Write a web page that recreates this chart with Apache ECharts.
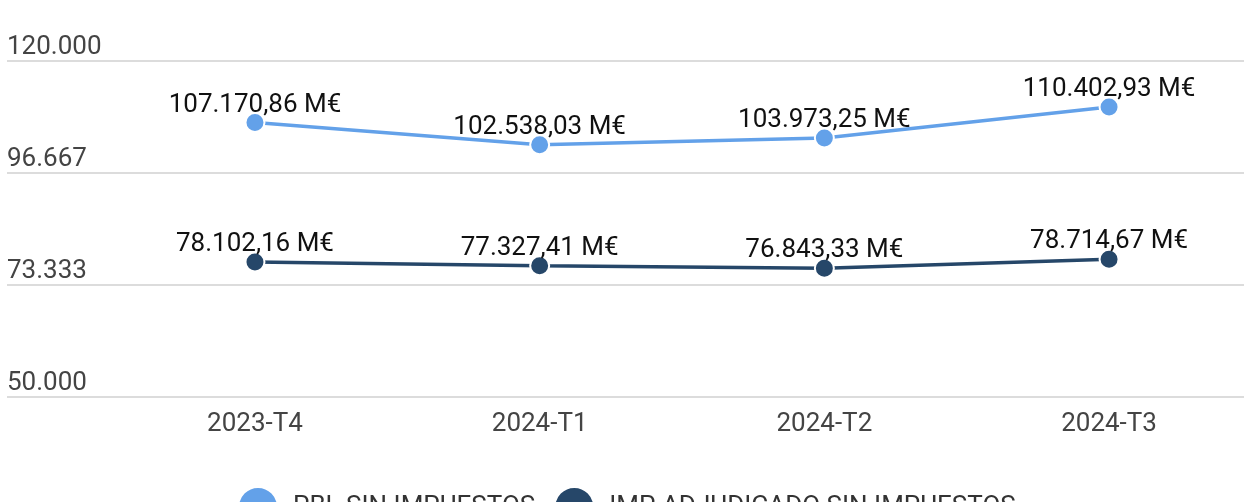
<!DOCTYPE html>
<html>
<head>
<meta charset="utf-8">
<script src="https://cdn.jsdelivr.net/npm/echarts@6/dist/echarts.min.js"></script>
<style>
  html, body { margin: 0; padding: 0; background: #fff; }
  #chartdiv { width: 1244px; height: 502px; }
</style>
</head>
<body>
<div id="chartdiv"></div>
<script>
var categories = ['2023-T4', '2024-T1', '2024-T2', '2024-T3'];
var seriesNames = ['PBL SIN IMPUESTOS', 'IMP ADJUDICADO SIN IMPUESTOS'];
var pblValues = [107170.86, 102538.03, 103973.25, 110402.93];
var impValues = [78102.16, 77327.41, 76843.33, 78714.67];
var yTicks = [50000, 73333.33, 96666.67, 120000];

var chart = echarts.init(document.getElementById('chartdiv'));

// puntos [indice, valor] para el eje x numerico
function toPoints(values) {
    return values.map(function (v, i) { return [i, v]; });
}

function fmtNum(v, dec) {
    var parts = v.toFixed(dec).split('.');
    var ent = parts[0].replace(/\B(?=(\d{3})+(?!\d))/g, '.');
    return dec > 0 ? ent + ',' + parts[1] : ent;
}

function lineSerie(name, values, color) {
    return {
        name: name,
        type: 'line',
        data: toPoints(values),
        symbol: 'circle',
        symbolSize: 19,
        lineStyle: { color: color, width: 3.5 },
        itemStyle: { color: color, borderColor: '#fff', borderWidth: 2 },
        label: {
            show: true,
            position: 'top',
            distance: -6,
            color: '#111',
            fontFamily: 'Roboto',
            fontSize: 26,
            formatter: function (p) { return fmtNum(p.value[1], 2) + ' M€'; }
        },
        emphasis: { disabled: true },
        z: 3
    };
}

var option = {
    animation: false,
    color: ['#63a1e9', '#264769'],
    grid: { left: 7, right: 0, top: 61, bottom: 105 },
    legend: {
        top: 481,
        left: 232,
        icon: 'circle',
        itemWidth: 40,
        itemHeight: 40,
        itemGap: 18,
        data: seriesNames,
        textStyle: { fontFamily: 'Roboto', fontSize: 26, color: '#333', padding: [0, 0, 0, 10] }
    },
    xAxis: {
        type: 'value',
        min: -0.871,
        max: 3.474,
        axisLine: { show: false },
        axisTick: { show: false },
        splitLine: { show: false },
        axisLabel: {
            customValues: [0, 1, 2, 3],
            margin: 14,
            color: '#444',
            fontFamily: 'Roboto',
            fontSize: 26,
            formatter: function (v) { return categories[Math.round(v)]; }
        }
    },
    yAxis: {
        type: 'value',
        min: yTicks[0],
        max: yTicks[3],
        interval: (yTicks[3] - yTicks[0]) / 3,
        axisLine: { show: false },
        axisTick: { show: false },
        splitLine: { lineStyle: { color: '#dcdcdc', width: 2 } },
        axisLabel: {
            inside: true,
            margin: 0,
            verticalAlign: 'bottom',
            padding: [0, 0, 1, 0],
            color: '#444',
            fontFamily: 'Roboto',
            fontSize: 26,
            formatter: function (v) { return fmtNum(v, 0); }
        }
    },
    series: [
        lineSerie(seriesNames[0], pblValues, '#63a1e9'),
        lineSerie(seriesNames[1], impValues, '#264769')
    ]
};

chart.setOption(option);
</script>
</body>
</html>
